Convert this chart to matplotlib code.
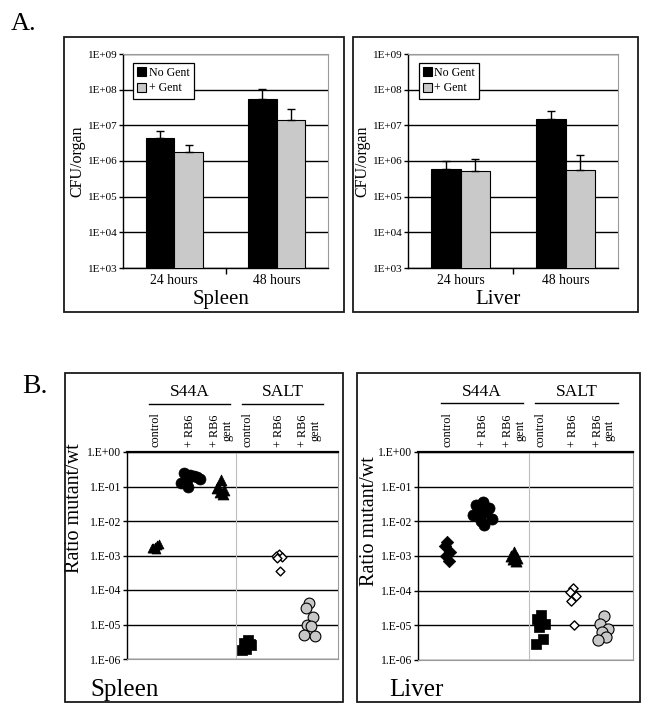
import matplotlib
matplotlib.use('Agg')
import matplotlib.pyplot as plt
import numpy as np
from matplotlib.patches import Rectangle
from matplotlib.lines import Line2D
from matplotlib.ticker import FixedLocator, NullLocator

plt.rcParams['font.family'] = ['Liberation Serif', 'DejaVu Serif']

# ---------------- data: panel A ----------------
timepoints = ['24 hours', '48 hours']
series_names = ['No Gent', '+ Gent']
spleen_no_gent = [4.5e6, 5.5e7]
spleen_no_gent_err = [2.5e6, 5.2e7]
spleen_gent = [1.75e6, 1.38e7]
spleen_gent_err = [1.15e6, 1.5e7]
liver_no_gent = [6.1e5, 1.5e7]
liver_no_gent_err = [4.0e5, 1.1e7]
liver_gent = [5.3e5, 5.5e5]
liver_gent_err = [6.4e5, 9.0e5]
a_tick_values = [1e3, 1e4, 1e5, 1e6, 1e7, 1e8, 1e9]
a_tick_labels = ['1E+03', '1E+04', '1E+05', '1E+06', '1E+07', '1E+08', '1E+09']

# ---------------- data: panel B ----------------
strains = ['S44A', 'SALT']
conditions = ['control', '+ RB6', '+ RB6\ngent', 'control', '+ RB6', '+ RB6\ngent']
spleen_ratios = [
    [1.5e-3, 1.7e-3, 2.2e-3, 1.8e-3, 2.0e-3, 1.6e-3],                 # S44A control
    [0.22, 0.25, 0.19, 0.15, 0.20, 0.13, 0.17, 0.10],                  # S44A + RB6
    [0.15, 0.10, 0.08, 0.07, 0.06, 0.09],                              # S44A + RB6 gent
    [3.5e-6, 3.0e-6, 2.5e-6, 2.0e-6, 2.8e-6, 1.8e-6],                  # SALT control
    [1.1e-3, 1.0e-3, 0.9e-3, 0.85e-3, 3.5e-4],                         # SALT + RB6
    [4.2e-5, 3.1e-5, 1.7e-5, 1.0e-5, 0.88e-5, 5.1e-6, 4.5e-6],        # SALT + RB6 gent
]
liver_ratios = [
    [2.5e-3, 2.0e-3, 1.3e-3, 1.0e-3, 0.7e-3],                          # S44A control
    [0.035, 0.03, 0.025, 0.02, 0.018, 0.015, 0.012, 0.01, 0.008],      # S44A + RB6
    [1.3e-3, 1.0e-3, 0.9e-3, 0.8e-3, 0.7e-3],                          # S44A + RB6 gent
    [2.0e-5, 1.5e-5, 1.1e-5, 9e-6, 4e-6, 2.8e-6],                      # SALT control
    [1.2e-4, 9e-5, 7e-5, 5e-5, 1e-5],                                  # SALT + RB6
    [1.9e-5, 1.1e-5, 8e-6, 6.5e-6, 4.6e-6, 3.7e-6],                    # SALT + RB6 gent
]
b_tick_values = [1e-6, 1e-5, 1e-4, 1e-3, 1e-2, 1e-1, 1e0]
b_tick_labels = ['1.E-06', '1.E-05', '1.E-04', '1.E-03', '1.E-02', '1.E-01', '1.E+00']

# ---------------- layout helpers ----------------
W, H = 652, 714
fig = plt.figure(figsize=(W / 100, H / 100), dpi=100)


def fx(x):
    return x / W


def fy(y):
    return 1 - y / H


def add_ax(x0, y0, x1, y1):
    return fig.add_axes([fx(x0), fy(y1), (x1 - x0) / W, (y1 - y0) / H])


def box(x0, y0, x1, y1):
    fig.add_artist(Rectangle((fx(x0), fy(y1)), (x1 - x0) / W, (y1 - y0) / H,
                             transform=fig.transFigure, fill=False,
                             ec='#1a1a1a', lw=1.3))


GRAY_SPINE = '#9a9a9a'


def bar_panel(ax, no_gent, no_gent_err, gent, gent_err):
    x = np.arange(len(timepoints))
    w = 0.28
    ax.bar(x - w / 2, no_gent, w, color='black', edgecolor='black', lw=0.8,
           label=series_names[0], zorder=3)
    ax.bar(x + w / 2, gent, w, color='#c9c9c9', edgecolor='black', lw=0.8,
           label=series_names[1], zorder=3)
    ax.errorbar(x - w / 2, no_gent, yerr=[np.zeros(len(x)), no_gent_err],
                fmt='none', ecolor='black', elinewidth=1, capsize=3,
                capthick=1, zorder=4)
    ax.errorbar(x + w / 2, gent, yerr=[np.zeros(len(x)), gent_err],
                fmt='none', ecolor='black', elinewidth=1, capsize=3,
                capthick=1, zorder=4)
    ax.set_yscale('log')
    ax.set_ylim(a_tick_values[0], a_tick_values[-1])
    ax.set_xlim(-0.5, len(timepoints) - 0.5)
    ax.yaxis.set_major_locator(FixedLocator(a_tick_values))
    ax.yaxis.set_minor_locator(NullLocator())
    ax.set_yticklabels(a_tick_labels)
    ax.yaxis.grid(True, color='black', lw=1.0, zorder=1)
    ax.set_axisbelow(True)
    ax.set_xticks(x)
    ax.set_xticklabels(timepoints, fontsize=9.8)
    ax.set_xticks([0.5], minor=True)
    ax.tick_params(axis='x', which='major', length=0, pad=4)
    ax.tick_params(axis='x', which='minor', length=4, width=1, direction='out')
    ax.tick_params(axis='y', length=3, width=1, direction='out', labelsize=8.0, pad=1)
    for s in ['top', 'right']:
        ax.spines[s].set_color(GRAY_SPINE)
        ax.spines[s].set_linewidth(0.8)
    for s in ['left', 'bottom']:
        ax.spines[s].set_color('black')
        ax.spines[s].set_linewidth(1.0)
    ax.set_ylabel('CFU/organ', fontsize=11.5, labelpad=2)
    leg = ax.legend(loc='upper left', bbox_to_anchor=(0.05, 0.96), fontsize=8.6,
                    frameon=True, fancybox=False, edgecolor='black',
                    framealpha=1, handlelength=0.75, handleheight=0.75,
                    handletextpad=0.2, borderpad=0.35, labelspacing=0.3,
                    borderaxespad=0)
    leg.get_frame().set_linewidth(0.9)


# ---------------- panel A ----------------
fig.text(fx(11), fy(30), 'A.', fontsize=19, ha='left', va='baseline')
box(64, 37, 344, 312)
box(353, 37, 638, 312)

ax1 = add_ax(123, 54, 328, 268)
bar_panel(ax1, spleen_no_gent, spleen_no_gent_err, spleen_gent, spleen_gent_err)
fig.text(fx(221), fy(304), 'Spleen', fontsize=15, ha='center', va='baseline')

ax2 = add_ax(408, 54, 618, 268)
bar_panel(ax2, liver_no_gent, liver_no_gent_err, liver_gent, liver_gent_err)
fig.text(fx(498), fy(304), 'Liver', fontsize=15, ha='center', va='baseline')

# ---------------- panel B ----------------
cat_pos = [0.137, 0.30, 0.447, 0.572, 0.72, 0.864]
divider = 0.518
marker_styles_spleen = [
    dict(marker='^', s=42, c='black', edgecolors='black', linewidths=0.5),
    dict(marker='o', s=62, c='black', edgecolors='black', linewidths=0.5),
    dict(marker='^', s=62, c='black', edgecolors='black', linewidths=0.5),
    dict(marker='s', s=52, c='black', edgecolors='black', linewidths=0.5),
    dict(marker='D', s=20, c='white', edgecolors='black', linewidths=1.0),
    dict(marker='o', s=60, c='#c8c8c8', edgecolors='black', linewidths=0.8),
]
marker_styles_liver = [
    dict(marker='D', s=40, c='black', edgecolors='black', linewidths=0.5),
    dict(marker='o', s=64, c='black', edgecolors='black', linewidths=0.5),
    dict(marker='^', s=64, c='black', edgecolors='black', linewidths=0.5),
    dict(marker='s', s=52, c='black', edgecolors='black', linewidths=0.5),
    dict(marker='D', s=22, c='white', edgecolors='black', linewidths=1.0),
    dict(marker='o', s=64, c='#c8c8c8', edgecolors='black', linewidths=0.8),
]
jitter_pattern = [0.0, -0.7, 0.7, -0.35, 0.35, -1.0, 1.0, -0.2, 0.2]
jitter_width = [0.018, 0.045, 0.02, 0.025, 0.02, 0.025]


def scatter_panel(ax, ratios, styles):
    for pos, vals, st, jw in zip(cat_pos, ratios, styles, jitter_width):
        offs = [pos + jw * jitter_pattern[i % len(jitter_pattern)]
                for i in range(len(vals))]
        ax.scatter(offs, vals, zorder=4, clip_on=False, **st)
    ax.set_yscale('log')
    ax.set_ylim(b_tick_values[0], b_tick_values[-1])
    ax.set_xlim(0, 1)
    ax.yaxis.set_major_locator(FixedLocator(b_tick_values))
    ax.yaxis.set_minor_locator(NullLocator())
    ax.set_yticklabels(b_tick_labels)
    ax.yaxis.grid(True, color='black', lw=1.0, zorder=1)
    ax.set_axisbelow(True)
    ax.set_xticks([])
    ax.axvline(divider, color='#bdbdbd', lw=0.8, zorder=2)
    ax.tick_params(axis='y', length=3, width=1, direction='out', labelsize=8.4, pad=1)
    for s in ['bottom', 'right']:
        ax.spines[s].set_color(GRAY_SPINE)
        ax.spines[s].set_linewidth(0.8)
    ax.spines['left'].set_color('black')
    ax.spines['left'].set_linewidth(1.0)
    ax.spines['top'].set_color('black')
    ax.spines['top'].set_linewidth(1.6)
    # condition labels
    for pos, lab in zip(cat_pos, conditions):
        ax.text(pos, 1.025, lab, transform=ax.transAxes, rotation=90,
                ha='center', va='bottom', fontsize=8.8, multialignment='center',
                linespacing=1.0)
    # strain headers
    spans = [(0.105, 0.488), (0.546, 0.928)]
    for name, (a, b) in zip(strains, spans):
        ax.add_line(Line2D([a, b], [1.234, 1.234], transform=ax.transAxes,
                           color='black', lw=1.0, clip_on=False))
        ax.text((a + b) / 2, 1.25, name, transform=ax.transAxes, ha='center',
                va='bottom', fontsize=12.5)


fig.text(fx(22), fy(393), 'B.', fontsize=20, ha='left', va='baseline')
box(65, 373, 343, 702)
box(357, 373, 640, 702)

ax3 = add_ax(127, 452, 338, 659)
scatter_panel(ax3, spleen_ratios, marker_styles_spleen)
ax3.set_ylabel('Ratio mutant/wt', fontsize=14.5)
ax3.yaxis.set_label_coords(-0.205, 0.73)
fig.text(fx(125), fy(696), 'Spleen', fontsize=18, ha='center', va='baseline')

ax4 = add_ax(418, 452, 633, 660)
scatter_panel(ax4, liver_ratios, marker_styles_liver)
ax4.set_ylabel('Ratio mutant/wt', fontsize=14.5)
ax4.yaxis.set_label_coords(-0.18, 0.67)
fig.text(fx(416), fy(696), 'Liver', fontsize=18, ha='center', va='baseline')

fig.savefig('out.png', dpi=100)
